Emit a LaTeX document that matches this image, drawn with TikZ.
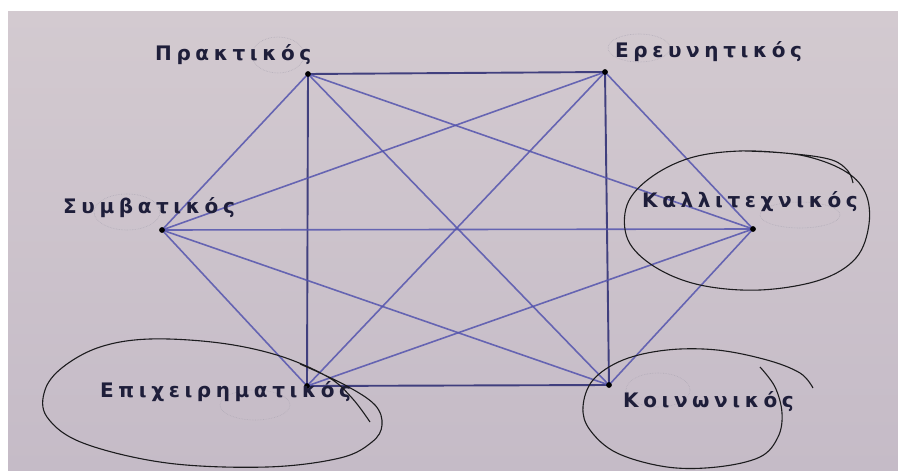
\documentclass[tikz,border=0pt]{standalone}
\usepackage{xcolor}
\usepackage{fontspec}
\setmainfont{Liberation Sans}
\newfontfamily\wordfont[LetterSpace=23]{DejaVu Sans}
\usepackage{tikz}

\definecolor{paper}{RGB}{211,202,208}
\definecolor{paperdark}{RGB}{197,187,199}
\definecolor{ink}{RGB}{30,30,58}
\definecolor{edgeblue}{RGB}{84,84,174}
\definecolor{sideblue}{RGB}{50,50,118}
\definecolor{pencil}{RGB}{28,28,30}
\definecolor{ghost}{RGB}{178,172,184}

\tikzset{
  edge/.style={edgeblue, line width=1.6pt, opacity=0.85},
  side/.style={sideblue, line width=1.9pt, opacity=0.9},
  word/.style={anchor=base west, inner sep=0pt, text=ink, font=\wordfont\fontsize{20}{20}\selectfont\bfseries},
  ring/.style={pencil, line width=1.1pt},
  faint/.style={ghost, line width=0.6pt, densely dotted}
}

\begin{document}
\begin{tikzpicture}[x=1pt,y=-1pt]
\useasboundingbox (0,0) rectangle (898,471);
\fill[white] (0,0) rectangle (898,471);
\shade[top color=paper, bottom color=paperdark] (8,11) rectangle (898,471);

% the six types
\coordinate (prak) at (308,74);
\coordinate (ereu) at (605,72);
\coordinate (symv) at (162,230);
\coordinate (kall) at (753,229);
\coordinate (epix) at (307,386);
\coordinate (koin) at (609,385);

% square
\draw[side] (prak) -- (ereu) -- (koin) -- (epix) -- cycle;
% all other links
\foreach \a/\b in {prak/symv, prak/kall, prak/koin, ereu/symv, ereu/kall, ereu/epix,
                   symv/kall, symv/epix, symv/koin, kall/epix, kall/koin}
  \draw[edge] (\a) -- (\b);

\foreach \v in {prak, ereu, symv, kall, epix, koin}
  \filldraw[fill=black] (\v) circle (2.6);

% faint marks from the back of the page
\draw[faint] (278,55) ellipse [x radius=26, y radius=18];
\draw[faint] (639,48) ellipse [x radius=31, y radius=14];
\draw[faint] (127,212) ellipse [x radius=33, y radius=18];
\draw[faint] (800,215) ellipse [x radius=40, y radius=13];
\draw[faint] (255,405) ellipse [x radius=35, y radius=15];
\draw[faint] (658,390) ellipse [x radius=32, y radius=17];

% labels
\node[word] (tprak) at (155,60) {Πρακτικός};
\node[word] (tereu) at (615,57) {Ερευνητικός};
\node[word] (tsymv) at (63,213) {Συμβατικός};
\node[word] (tkall) at (642,207) {Καλλιτεχνικός};
\node[word] (tepix) at (100,397) {Επιχειρηματικός};
\node[word] (tkoin) at (623,407) {Κοινωνικός};

% pen rings
\draw[ring] plot [smooth, tension=0.6] coordinates {(745,151) (800,155) (843,170) (865,192) (869,224) (856,258) (820,280) (760,290) (700,285) (655,267) (628,240) (627,205) (650,178) (690,158) (740,151) (795,154) (832,160) (848,171) (853,183)};
\draw[ring] plot [smooth, tension=0.6] coordinates {(300,364) (345,385) (375,405) (382,425) (372,442) (340,458) (267,467) (167,463) (83,443) (47,417) (45,390) (63,367) (100,347) (150,339) (220,343) (280,356) (328,377) (352,398) (370,422)};
\draw[ring] plot [smooth, tension=0.6] coordinates {(760,367) (775,387) (782,413) (778,437) (760,457) (717,467) (667,467) (617,453) (590,430) (583,407) (593,380) (623,360) (667,350) (717,350) (767,360) (800,373) (813,388)};
\end{tikzpicture}
\end{document}
